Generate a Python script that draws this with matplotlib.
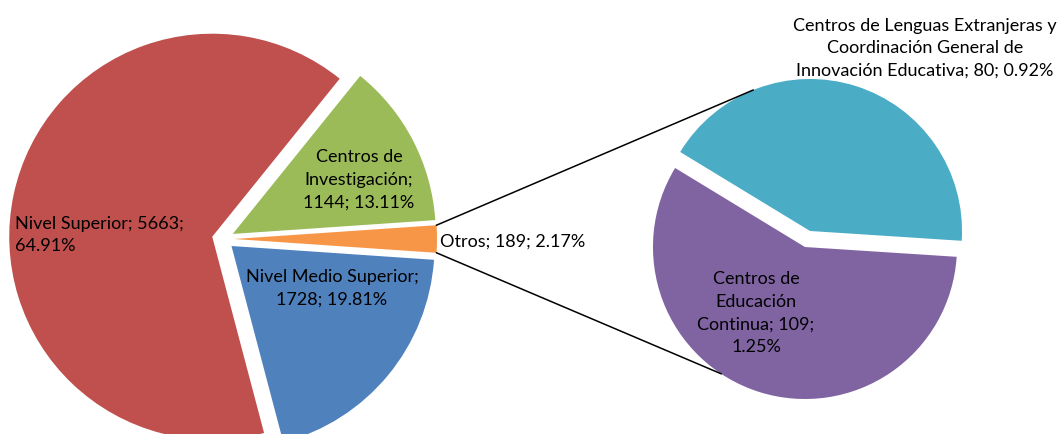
import numpy as np
import matplotlib.pyplot as plt

# main pie (left)
main_labels = ['Otros', 'Centros de\nInvestigación', 'Nivel Superior', 'Nivel Medio Superior']
main_values = [189, 1144, 5663, 1728]
main_colors = ['#F79646', '#9BBB59', '#C0504D', '#4F81BD']

# breakdown of "Otros" (right pie)
sub_labels = ['Centros de Lenguas Extranjeras y\nCoordinación General de\nInnovación Educativa',
              'Centros de\nEducación\nContinua']
sub_values = [80, 109]
sub_colors = ['#4BACC6', '#8064A2']

total = sum(main_values)

plt.rcParams['font.family'] = ['Lato', 'DejaVu Sans']

W, H = 1061, 435
fig = plt.figure(figsize=(W / 100, H / 100), dpi=100)
ax = fig.add_axes([0, 0, 1, 1])

# left pie, "Otros" slice centred on the right side
start_main = -main_values[0] / total * 360 / 2
wedges1, _ = ax.pie(main_values, colors=main_colors, startangle=start_main,
                    counterclock=True, radius=203, center=(223, 195),
                    explode=[11] * 4, frame=True,
                    wedgeprops=dict(linewidth=0))

wedges2, _ = ax.pie(sub_values, colors=sub_colors, startangle=-3.7,
                    counterclock=True, radius=152, center=(807.5, 195),
                    explode=[8.4] * 2, frame=True,
                    wedgeprops=dict(linewidth=0))
ax.set_xlim(0, W)
ax.set_ylim(0, H)
ax.set_aspect('equal')
ax.axis('off')

# connector lines
def pt(w, ang):
    a = np.deg2rad(ang)
    return w.center[0] + w.r * np.cos(a), w.center[1] + w.r * np.sin(a)

o = wedges1[0]
p1 = pt(o, o.theta2)
p2 = pt(o, o.theta1)
q1 = pt(wedges2[0], 112)
q2 = pt(wedges2[1], 236.5)
ax.plot([p1[0], q1[0]], [p1[1], q1[1]], color='black', lw=1.1)
ax.plot([p2[0], q2[0]], [p2[1], q2[1]], color='black', lw=1.1)

fs = 13
ls = 1.5

def pct(v):
    return f"{v / total * 100:.2f}%"

# labels of the main pie
ax.text(15, H - 235, f"{main_labels[2]}; {main_values[2]};\n{pct(main_values[2])}",
        ha='left', va='center', fontsize=fs, linespacing=ls)
ax.text(359, H - 180, f"{main_labels[1]};\n{main_values[1]}; {pct(main_values[1])}",
        ha='center', va='center', fontsize=fs, linespacing=ls, multialignment='center')
ax.text(332, H - 288, f"{main_labels[3]};\n{main_values[3]}; {pct(main_values[3])}",
        ha='center', va='center', fontsize=fs, linespacing=ls, multialignment='center')
ax.text(440, H - 242, f"{main_labels[0]}; {main_values[0]}; {pct(main_values[0])}",
        ha='left', va='center', fontsize=fs)

# labels of the second pie
ax.text(925, H - 48, f"{sub_labels[0]}; {sub_values[0]}; {pct(sub_values[0])}",
        ha='center', va='center', fontsize=fs, linespacing=ls, multialignment='center')
ax.text(756, H - 313, f"{sub_labels[1]}; {sub_values[1]};\n{pct(sub_values[1])}",
        ha='center', va='center', fontsize=fs, linespacing=ls, multialignment='center')

fig.savefig('out.png', dpi=100)
